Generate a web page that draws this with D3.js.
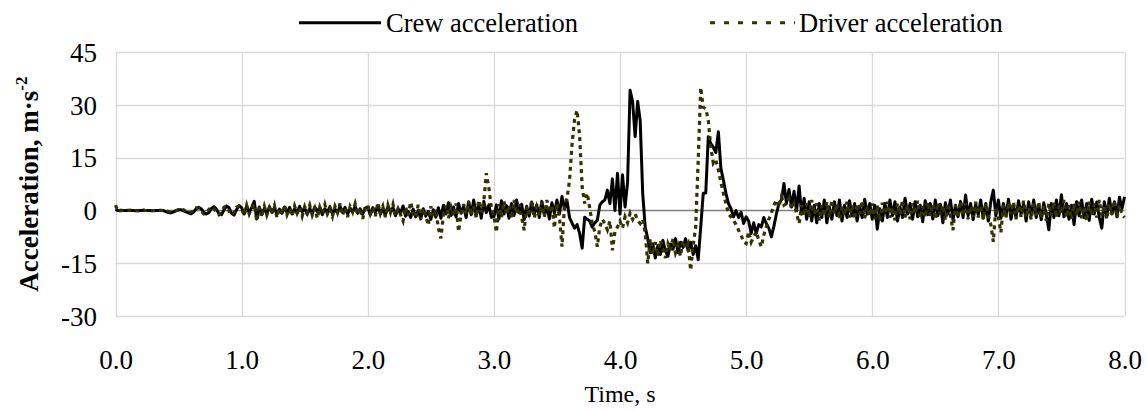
<!DOCTYPE html>
<html><head><meta charset="utf-8">
<script src="https://cdn.jsdelivr.net/npm/d3@7"></script>
<style>
body{margin:0;background:#fff}
svg{display:block}
text{font-family:"Liberation Serif","Times New Roman",serif;fill:#000}
</style>
</head><body><svg id="c" width="1147" height="412"></svg>
<script>
// sampling interval of the recorded signals (s)
const timeStep = 0.02;

// Crew acceleration, m·s^-2 (one value every 0.02 s, 0.00 … 8.00 s)
const crew = [
 0.3,0.0,-0.1,0.0,0.0,0.1,0.0,0.0,-0.1,0.0,0.0,0.1,0.0,0.0,0.0,-0.1,0.0,0.0,0.1,0.0,
 -0.3,-0.6,-0.7,-0.4,0.0,0.2,0.2,-0.1,-0.4,-0.7,
 -0.9,-0.4,0.5,0.9,0.5,-0.5,-1.0,-0.6,0.6,1.1,0.4,-0.9,-1.2,0.2,1.3,0.8,-0.8,-1.3,0.3,1.4,
 0.8,-1.0,1.2,-0.6,0.9,2.6,-2.4,1.0,-1.2,0.6,-0.9,1.1,-0.5,0.8,-1.1,0.4,-0.8,1.0,-0.6,0.9,
 -1.0,0.5,-0.7,1.2,-0.4,0.7,-1.1,0.6,-0.8,1.0,-0.3,0.8,-1.2,0.5,-0.6,1.1,-0.9,0.4,-0.7,1.3,
 -0.5,0.9,-1.0,0.6,-0.4,1.2,-0.8,0.5,-1.1,0.7,
 1.0,-1.2,0.8,-0.6,1.4,-1.0,0.5,-1.3,1.1,-0.4,0.9,-1.5,0.6,-0.8,1.3,-1.6,-0.2,-2.0,0.4,-1.8,
 0.0,-2.4,0.5,-1.6,-0.3,-2.5,0.2,-1.9,0.8,-2.2,1.5,-1.0,2.2,-1.4,1.0,-1.8,2.0,-0.8,1.2,-2.0,
 2.5,-1.2,3.0,-1.5,1.8,-2.2,2.6,-0.6,1.6,-1.9,
 -1.8,1.6,-2.4,2.8,-1.0,1.4,-2.2,2.0,-1.4,3.0,-0.6,1.8,-2.6,1.2,-1.6,2.4,-1.0,1.6,-2.0,2.6,
 -1.2,1.0,-2.4,2.2,-0.8,3.0,-1.0,4.0,0.5,2.8,-2.0,-3.6,-5.0,-4.0,-6.5,-10.7,-1.9,-2.5,-3.0,-4.7,
 -3.5,-2.8,1.5,2.5,3.0,5.8,2.0,9.0,0.0,10.6,
 -1.0,10.2,1.0,8.0,34.2,31.0,21.0,31.0,25.6,4.9,-4.7,-8.0,-12.0,-9.5,-13.5,-10.0,-12.5,-8.5,-11.5,-13.0,
 -9.5,-11.0,-8.0,-12.0,-9.0,-10.5,-8.0,-11.5,-9.0,-12.5,-10.0,-14.0,-4.7,4.9,5.0,21.0,19.0,18.0,16.5,22.4,
 12.0,8.6,4.9,2.0,0.5,-1.8,0.0,-2.0,-0.5,-3.7,
 -1.8,-3.0,-6.5,-3.5,-6.5,-4.0,-4.7,-2.0,-3.7,-5.0,-7.5,-4.5,-1.0,2.0,3.0,7.7,2.0,6.0,1.0,5.5,
 0.0,7.0,-1.0,3.5,-2.5,2.5,-3.0,1.5,-3.5,2.0,-2.0,3.0,-3.5,1.0,-2.5,2.5,-1.5,3.0,-3.0,1.5,
 -2.0,2.8,-1.5,2.0,-3.0,1.2,-2.0,3.2,-1.0,2.0,
 -2.5,1.5,-5.3,0.5,-3.0,2.0,-2.0,3.0,-1.5,2.5,-3.0,1.0,-2.0,3.5,-1.0,2.0,-2.5,2.5,-1.8,1.5,
 -3.2,2.8,-1.2,2.0,-2.4,3.0,-1.5,1.8,-3.5,2.2,-1.0,3.0,-2.8,1.5,-1.8,2.6,-2.0,4.4,-1.5,2.0,
 -2.6,1.8,-1.2,3.0,-2.2,2.0,-3.0,2.5,5.8,-1.5,
 3.0,-2.2,2.0,-1.5,3.2,-2.5,1.5,-2.0,2.8,-1.0,2.0,-3.0,2.5,-1.5,3.0,-2.0,1.6,-2.6,2.2,-1.2,
 -5.5,2.0,-2.0,3.0,-1.5,4.5,-1.8,2.0,-2.5,1.5,-4.0,2.5,-1.5,3.0,-2.0,2.0,-2.8,3.2,-1.0,2.4,
 -2.0,-5.0,2.5,-1.5,3.5,-1.0,2.5,-1.8,3.8,0.5,3.9
];

// Driver acceleration, m·s^-2 (one value every 0.02 s, 0.00 … 8.00 s)
const driver = [
 1.5,-0.2,0.1,0.0,-0.1,0.0,0.1,0.0,0.0,-0.1,0.0,0.1,0.0,0.0,-0.1,0.0,0.0,0.1,0.0,0.0,
 -0.1,-0.3,-0.5,-0.4,-0.1,0.2,0.4,0.2,-0.3,-0.6,
 -0.5,0.1,0.8,0.7,-0.2,-1.0,-0.8,0.3,1.0,0.7,-0.5,-1.2,-0.4,0.9,1.2,-0.2,-1.3,-0.6,1.0,1.2,
 0.5,-1.4,1.5,-1.0,0.6,1.8,-3.0,0.9,-1.8,1.2,-1.3,0.8,-0.9,1.4,-2.0,0.7,-1.1,1.6,-1.2,0.5,
 -1.5,1.3,-0.8,0.9,-1.6,1.1,-0.7,1.5,-1.3,0.6,-2.2,1.0,-0.9,1.7,-1.0,0.4,-1.7,1.2,-0.6,2.0,
 -1.4,0.8,-1.9,1.1,-0.5,1.9,-1.2,0.7,-2.4,1.0,
 1.5,-1.0,0.8,-1.6,2.2,-0.8,1.2,-1.9,1.6,-0.6,1.8,-1.4,0.5,-1.2,-3.0,1.0,-1.5,2.4,-0.8,-2.0,
 1.6,-2.4,0.6,-1.5,-4.2,1.2,-1.8,0.4,-5.0,-7.9,-1.0,1.4,-2.2,0.9,-1.6,2.0,-6.0,-1.2,1.8,-1.0,
 2.6,-1.4,1.2,-2.0,3.0,-0.5,2.4,10.6,6.5,0.8,
 -1.5,-6.2,1.8,-2.0,2.6,-1.2,1.5,-2.4,3.0,-1.0,1.8,-2.0,-5.6,1.2,-1.6,2.8,-2.2,1.0,-1.4,2.4,
 -1.8,3.0,-0.6,1.6,-5.0,2.2,-2.0,-10.3,1.5,3.5,8.6,19.0,26.0,28.5,21.0,6.7,2.0,4.9,0.8,-3.7,
 -6.0,-10.3,-4.7,-2.5,-3.7,-5.5,-3.0,-11.3,-6.0,-4.7,
 -3.0,-5.0,-1.8,-3.5,-0.8,-2.5,-1.0,-2.8,-3.7,-2.5,-6.5,-15.0,-8.0,-12.5,-9.0,-13.0,-8.5,-11.0,-13.5,-9.5,
 -11.5,-8.0,-12.0,-10.0,-13.0,-8.5,-11.0,-9.5,-17.0,-10.0,-4.7,14.3,35.0,29.4,29.0,25.7,18.0,13.4,14.3,11.5,
 8.0,4.9,2.0,-1.0,-1.8,-2.8,-4.0,-5.6,-7.0,-8.9,
 -9.4,-6.0,-9.0,-7.5,-6.0,-8.4,-10.3,-7.0,-4.7,-2.5,-0.8,1.5,3.0,1.0,4.0,1.5,2.0,3.5,0.5,2.0,
 -0.8,-3.7,1.5,-1.5,2.0,-2.0,3.0,-1.0,2.0,-2.8,1.5,-1.5,2.5,-2.0,3.0,-1.0,2.0,-2.5,1.0,-1.5,
 2.5,-2.0,1.5,-2.5,2.0,-1.0,2.8,-2.2,1.0,-1.5,
 2.0,-2.5,1.5,-3.0,2.2,-1.0,2.5,-2.0,1.0,-2.8,2.0,-1.2,3.0,-2.0,1.5,-2.5,2.0,-1.0,2.8,-2.2,
 1.2,-2.0,2.5,-1.5,1.8,-2.5,2.2,-1.2,1.5,-2.8,2.0,-1.5,-5.6,1.5,-2.0,2.6,-1.5,2.0,-2.5,1.2,
 -1.8,2.5,-2.0,1.5,-2.5,2.0,-1.5,-4.0,-8.9,1.0,
 -2.0,-6.2,1.5,-2.0,2.2,-1.0,2.5,-2.5,1.5,-1.8,2.8,-2.0,1.0,-2.5,2.0,-1.5,2.5,-2.2,1.2,-3.0,
 2.0,-1.5,2.5,-2.0,1.5,-1.0,3.0,-2.0,1.5,-2.5,2.0,-1.5,2.5,-2.2,1.0,-3.0,2.5,-1.5,2.0,-2.0,
 3.0,-1.5,1.5,-2.5,2.0,-1.2,2.8,-2.0,1.5,-1.0,-2.0
];

const xTicks = [0,1,2,3,4,5,6,7,8];
const yTicks = [-30,-15,0,15,30,45];
const seriesNames = ["Crew acceleration","Driver acceleration"];
const seriesColors = ["#000000","#333300"];

const svg = d3.select("#c");
const L = 115.5, R = 1124.5, T = 52.3, B = 316;
const x = d3.scaleLinear().domain([0,8]).range([L,R]);
const y = d3.scaleLinear().domain([-30,45]).range([B,T]);
const FS = 27;

// grid
svg.append("g").selectAll("line").data(xTicks).join("line")
  .attr("x1",d=>Math.round(x(d))+0.5).attr("x2",d=>Math.round(x(d))+0.5)
  .attr("y1",T).attr("y2",B).attr("stroke","#d9d9d9").attr("stroke-width",1.3);
svg.append("g").selectAll("line").data(yTicks.filter(d=>d!==0)).join("line")
  .attr("x1",L).attr("x2",R)
  .attr("y1",d=>Math.round(y(d))+0.5).attr("y2",d=>Math.round(y(d))+0.5)
  .attr("stroke","#d9d9d9").attr("stroke-width",1.3);
svg.append("line").attr("x1",L).attr("x2",R).attr("y1",y(0)).attr("y2",y(0))
  .attr("stroke","#7f7f7f").attr("stroke-width",1.3);

// axes (labels only)
const xa = svg.append("g").attr("transform",`translate(0,${B})`)
  .call(d3.axisBottom(x).tickValues(xTicks).tickFormat(d=>d.toFixed(1)).tickSize(0));
xa.select(".domain").remove();
xa.selectAll("text").attr("y",53).attr("dy",0).style("font-size",FS+"px")
  .style("font-family",'"Liberation Serif",serif').attr("fill","#000");
const ya = svg.append("g").attr("transform",`translate(${L},0)`)
  .call(d3.axisLeft(y).tickValues(yTicks).tickFormat(d=>String(d)).tickSize(0).tickPadding(18.5));
ya.select(".domain").remove();
ya.selectAll("text").attr("dy","0.34em").style("font-size",FS+"px")
  .style("font-family",'"Liberation Serif",serif').attr("fill","#000");

// series
const line = d3.line().x((d,i)=>x(i*timeStep)).y(d=>y(d));
svg.append("path").datum(crew).attr("d",line).attr("fill","none")
  .attr("stroke",seriesColors[0]).attr("stroke-width",3).attr("stroke-linejoin","round");
svg.append("path").datum(driver).attr("d",line).attr("fill","none")
  .attr("stroke",seriesColors[1]).attr("stroke-width",3.2).attr("stroke-dasharray","4,4");

// axis titles
svg.append("text").attr("x",(L+R)/2).attr("y",402).attr("text-anchor","middle")
  .style("font-size","24px").text("Time, s");
const yt = svg.append("text").attr("transform",`translate(38,${(T+B)/2}) rotate(-90)`)
  .attr("text-anchor","middle").style("font-size",FS+"px").style("font-weight","bold");
yt.append("tspan").text("Acceleration, m·s");
yt.append("tspan").attr("dy",-11).style("font-size","17px").text("-2");

// legend
const lg = svg.append("g");
lg.append("line").attr("x1",299).attr("x2",381).attr("y1",22.7).attr("y2",22.7)
  .attr("stroke",seriesColors[0]).attr("stroke-width",3);
lg.append("text").attr("x",386).attr("y",32).style("font-size","26.5px").text(seriesNames[0]);
lg.append("line").attr("x1",710).attr("x2",795).attr("y1",22.7).attr("y2",22.7)
  .attr("stroke",seriesColors[1]).attr("stroke-width",3).attr("stroke-dasharray","5,9");
lg.append("text").attr("x",799).attr("y",32).style("font-size","26.5px").text(seriesNames[1]);
</script>
</body></html>
